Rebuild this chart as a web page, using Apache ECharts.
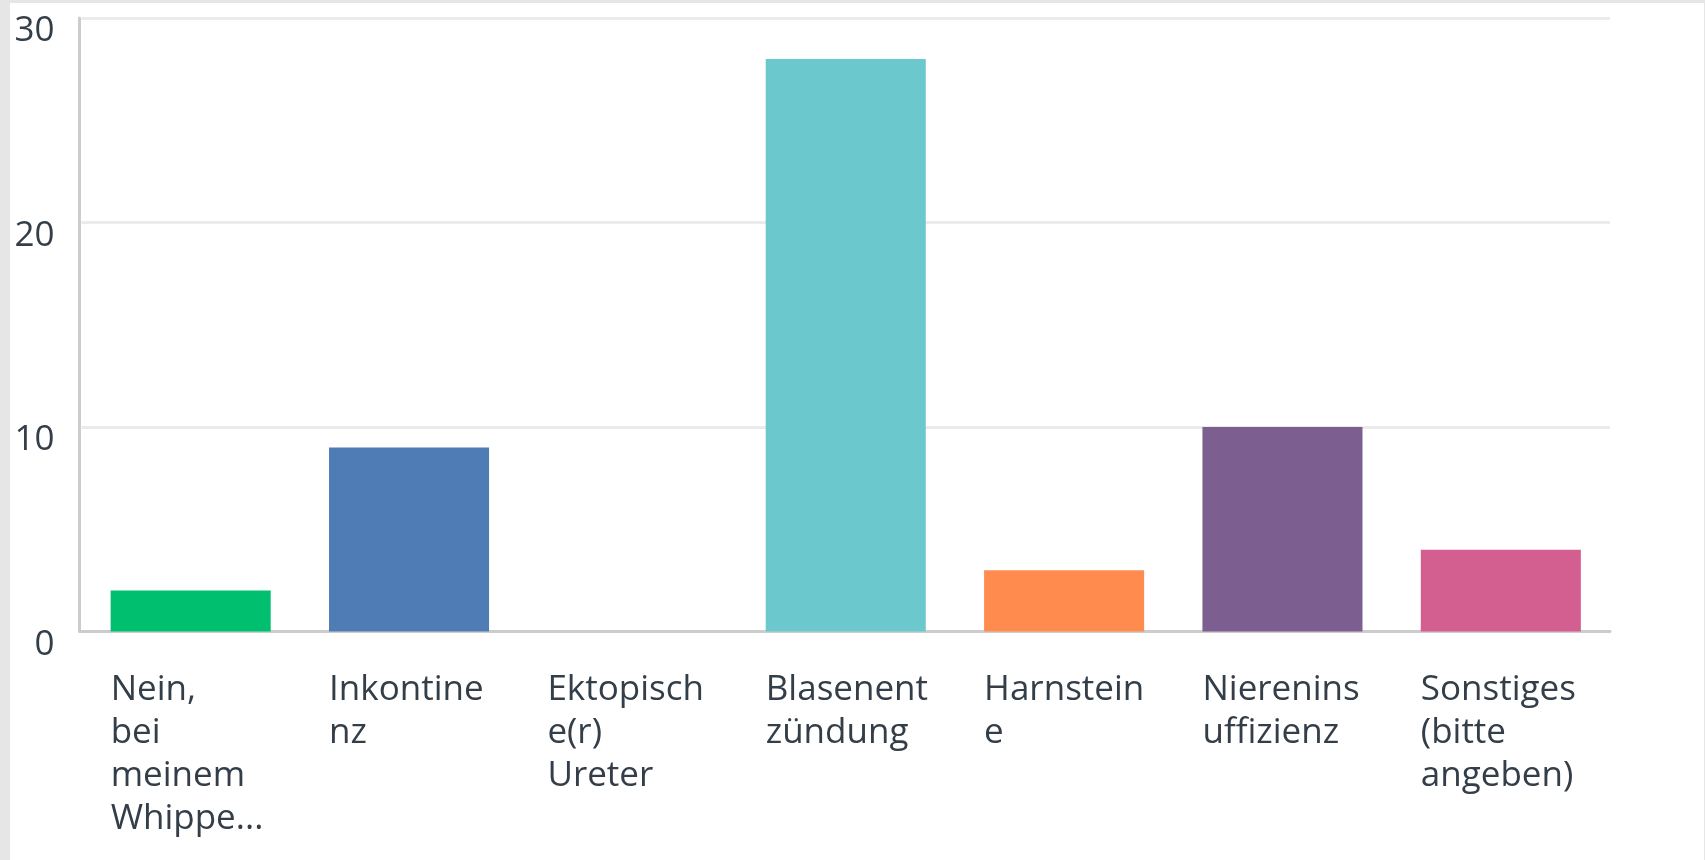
<!DOCTYPE html>
<html>
<head>
<meta charset="utf-8">
<script src="https://cdn.jsdelivr.net/npm/echarts@6/dist/echarts.min.js"></script>
<style>
  html, body { margin: 0; padding: 0; background: #e6e6e6; width: 1705px; height: 860px; overflow: hidden; }
  #panel { position: absolute; left: 10px; top: 3px; width: 1694px; height: 857px; background: #ffffff; }
  #chart { position: absolute; left: 0; top: 0; width: 1705px; height: 860px; }
</style>
</head>
<body>
<div id="panel"></div>
<div id="chart"></div>
<script>
// Answer options (wrapped as they appear under the bars)
const categories = [
  'Nein,\nbei\nmeinem\nWhippe...',
  'Inkontine\nnz',
  'Ektopisch\ne(r)\nUreter',
  'Blasenent\nzündung',
  'Harnstein\ne',
  'Nierenins\nuffizienz',
  'Sonstiges\n(bitte\nangeben)'
];
// Number of responses per option
const responses = [2, 9, 0, 28, 3, 10, 4];
// One colour per option
const barColors = ['#00bf6f', '#507cb6', '#f9be00', '#6bc8cd', '#ff8b4f', '#7d5e90', '#d25f90'];
// Value axis ticks
const yTicks = [0, 10, 20, 30];

const textColor = '#333e48';
const fontFamily = '"Open Sans", "Noto Sans", sans-serif';

const chart = echarts.init(document.getElementById('chart'), null, { renderer: 'canvas' });

chart.setOption({
  backgroundColor: 'transparent',
  animation: false,
  grid: { left: 81.5, right: 95, top: 18, bottom: 228.5, containLabel: false },
  xAxis: {
    type: 'category',
    data: categories,
    axisLine: { show: true, lineStyle: { color: '#cccccc', width: 3 } },
    axisTick: { show: false },
    splitLine: { show: false },
    axisLabel: {
      interval: 0,
      margin: 37,
      align: 'center',
      color: textColor,
      fontFamily: fontFamily,
      fontSize: 35,
      lineHeight: 43,
      formatter: function (v) {
        return v.split('\n').map(function (s) { return '{a|' + s + '}'; }).join('\n');
      },
      rich: {
        a: { width: 160, align: 'left', color: textColor, fontFamily: fontFamily, fontSize: 35, lineHeight: 43 }
      }
    }
  },
  yAxis: {
    type: 'value',
    min: yTicks[0],
    max: yTicks[yTicks.length - 1],
    interval: yTicks[1] - yTicks[0],
    offset: 2,
    axisLine: { show: true, lineStyle: { color: '#cccccc', width: 3 } },
    axisTick: { show: false },
    splitLine: {
      show: true,
      lineStyle: { color: '#ebebeb', width: 3 }
    },
    axisLabel: {
      margin: 25,
      color: textColor,
      fontFamily: fontFamily,
      fontSize: 35,
      verticalAlign: 'top',
      lineHeight: 27
    }
  },
  series: [{
    type: 'bar',
    data: responses.map(function (v, i) {
      return { value: v, itemStyle: { color: barColors[i] } };
    }),
    barWidth: '73.3%',
    label: { show: false }
  }]
});
</script>
</body>
</html>
